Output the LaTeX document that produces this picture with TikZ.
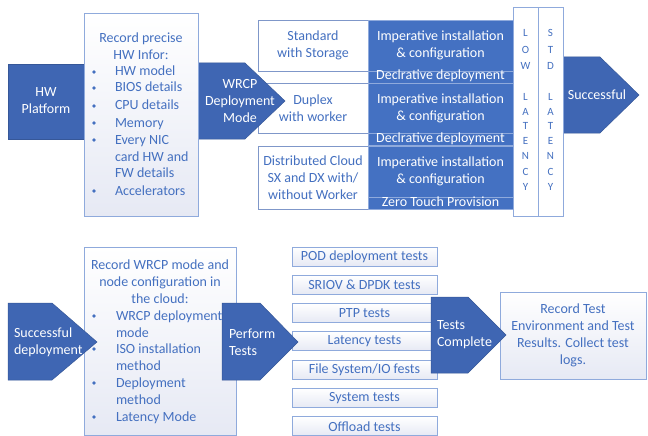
\documentclass[tikz,border=0pt]{standalone}
\usepackage{fontspec}
\setmainfont{Carlito}
\usepackage{xcolor}
\usetikzlibrary{positioning}

\definecolor{arrowblue}{HTML}{3F66B3}
\definecolor{impblue}{HTML}{4471C2}
\definecolor{boxline}{HTML}{8FAADC}
\definecolor{modeline}{HTML}{7F97C9}
\definecolor{boxshade}{HTML}{E6E9F4}
\definecolor{textblue}{HTML}{4470C0}

\begin{document}
\begin{tikzpicture}[x=1pt,y=-1pt,
  every node/.style={inner sep=0pt, outer sep=0pt},
  txt/.style={font=\fontsize{14}{17}\selectfont, align=center},
  chevron/.style={fill=arrowblue, draw=arrowblue!85!black, line width=0.5pt},
  infobox/.style={draw=boxline, line width=0.9pt, top color=white, bottom color=boxshade},
  modebox/.style={txt, draw=modeline, line width=0.8pt, fill=white, text=textblue, minimum width=110, anchor=north west},
  impbox/.style={txt, fill=impblue, draw=boxline, line width=0.4pt, text=white, minimum width=145, anchor=north west},
  stripbox/.style={impbox, minimum height=12, text height=8pt, text depth=2pt},
  latbox/.style={draw=boxline, line width=0.8pt, fill=white, minimum width=25, minimum height=209, anchor=north west},
  letter/.style={font=\fontsize{11}{13}\selectfont, text=textblue},
  testbox/.style={txt, draw=boxline, line width=0.9pt, top color=white, bottom color=boxshade, text=textblue, minimum width=145, minimum height=19, anchor=north west},
  arrowtext/.style={txt, text=white},
  bodytext/.style={txt, text=textblue}]

\useasboundingbox (0,0) rectangle (648,436);

% deployment modes
\node[modebox, minimum height=51] (standard) at (258,20) {Standard\\with Storage};
\node[modebox, minimum height=50] (duplex) at (258,83) {Duplex\\with worker};
\node[modebox, minimum height=63] (dcloud) at (258,146) {Distributed Cloud\\SX and DX with/\\without Worker};
\node[impbox, minimum height=51] (imp1) at (368,20) {Imperative installation\\\& configuration};
\node[stripbox] (decl1) at (368,71) {Declrative deployment};
\node[impbox, minimum height=50] (imp2) at (368,83) {Imperative installation\\\& configuration};
\node[stripbox] (decl2) at (368,133) {Declrative deployment};
\node[impbox, minimum height=51] (imp3) at (368,146) {Imperative installation\\\& configuration};
\node[stripbox] (ztp) at (368,197) {Zero Touch Provision};

% latency columns
\draw[chevron] (560,57) -- (600,57) -- (639,95) -- (600,133) -- (560,133) -- cycle;
\node[arrowtext] (success) at (597,95) {Successful};
\node[latbox] (lowlat) at (513,7) {};
\node[latbox] (stdlat) at (538,7) {};
\foreach \ch/\yy in {L/33,O/50,W/66,L/97,A/112,T/126,E/141,N/156,C/172,Y/187}
  \node[letter] (low-\yy) at (525.5,\yy) {\ch};
\foreach \ch/\yy in {S/33,T/50,D/66,L/97,A/112,T/126,E/141,N/156,C/172,Y/187}
  \node[letter] (std-\yy) at (550.5,\yy) {\ch};

% first row arrows
\draw[chevron] (190,63) -- (245,63) -- (285,101) -- (245,139) -- (190,139) -- cycle;
\node[arrowtext] (wrcp) at (240,101) {WRCP\\Deployment\\Mode};
\draw[chevron] (8,64) rectangle (92,139);
\node[arrowtext] (hwplat) at (46,101) {HW\\Platform};

% hardware record
\node[infobox, minimum width=114, minimum height=203, anchor=north west] (hwinfo) at (84,13) {};
\node[bodytext] (hwtitle) at (141,46) {Record precise\\HW Infor:};
\foreach \txt/\yy/\bul [count=\i] in {HW model/72/1, BIOS details/88/1, CPU details/106/1, Memory/123/1, Every NIC/140/1, card HW and/157/0, FW details/173/0, Accelerators/191/1} {
  \ifnum\bul=1 \fill[textblue] (94,\yy) circle (1.8); \fi
  \node[bodytext, anchor=base west] (hwitem\i) at (115,\yy+4) {\txt};
}

% second row
\node[infobox, minimum width=152, minimum height=188, anchor=north west] (cfginfo) at (84,247) {};
\node[bodytext] (cfgtitle) at (160,282) {Record WRCP mode and\\node configuration in\\the cloud:};
\foreach \txt/\yy/\bul [count=\i] in {WRCP deployment/316/1, mode/333/0, ISO installation/349/1, method/366/0, Deployment/383/1, method/400/0, Latency Mode/417/1} {
  \ifnum\bul=1 \fill[textblue] (94,\yy) circle (1.8); \fi
  \node[bodytext, anchor=base west] (cfgitem\i) at (116,\yy+4) {\txt};
}

\foreach \txt [count=\i from 0] in {POD deployment tests, SRIOV \& DPDK tests, PTP tests, Latency tests, {File System/IO fests}, System tests, Offload tests}
  \node[testbox] (test\i) at (292,{247+28.3*\i}) {\txt};

\node[infobox, bodytext, minimum width=146, minimum height=87, anchor=north west] (results) at (500,292) {Record Test\\Environment and Test\\Results. Collect test\\logs.};

\draw[chevron] (8,303) -- (52,303) -- (97,342) -- (52,380) -- (8,380) -- cycle;
\node[arrowtext, align=left, anchor=west] (sdeploy) at (14,342) {Successful\\deployment};
\draw[chevron] (222,303) -- (260,303) -- (298,342) -- (260,380) -- (222,380) -- cycle;
\node[arrowtext, align=left, anchor=west] (perform) at (229,342) {Perform\\Tests};
\draw[chevron] (431,297) -- (468,297) -- (506,335) -- (468,373) -- (431,373) -- cycle;
\node[arrowtext, align=left, anchor=west] (tcomplete) at (437,335) {Tests\\Complete};
\end{tikzpicture}
\end{document}
